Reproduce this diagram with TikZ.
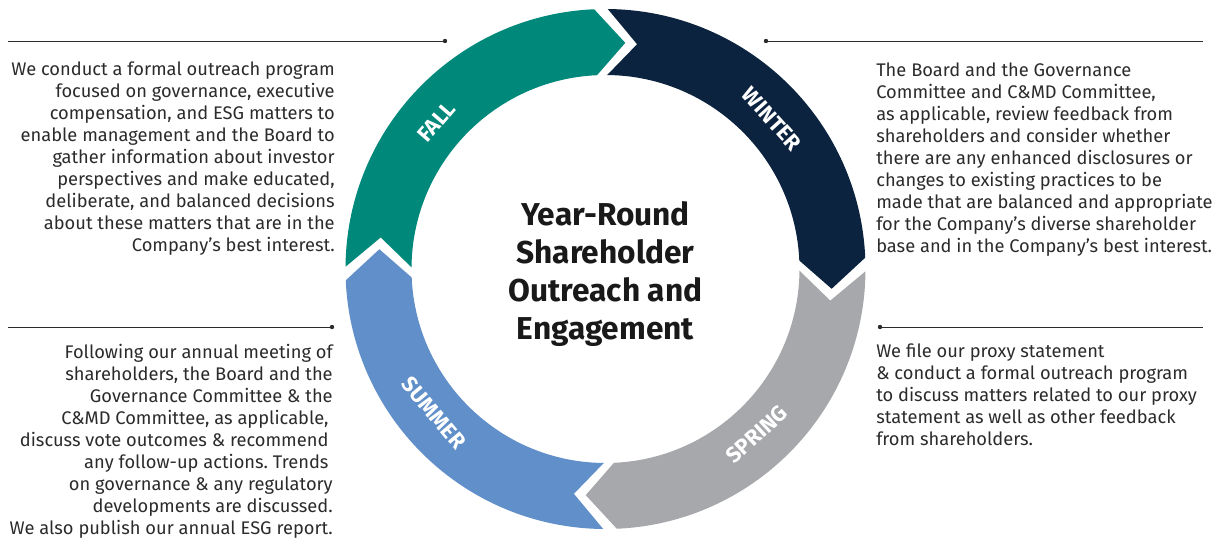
\documentclass[tikz,border=0pt]{standalone}
\usepackage{fontspec}
\setmainfont{Fira Sans}
\frenchspacing
\usetikzlibrary{positioning}
\definecolor{fallteal}{RGB}{0,136,122}
\definecolor{winternavy}{RGB}{12,35,64}
\definecolor{springgray}{RGB}{167,168,171}
\definecolor{summerblue}{RGB}{97,143,201}
\definecolor{textgray}{RGB}{43,43,43}
\tikzset{
    season/.style={text=white, font=\bfseries\fontsize{15.5}{17}\selectfont, inner sep=0pt},
    bodytext/.style={text=textgray, font=\fontsize{13}{15.6}\selectfont, inner sep=0pt},
    rule/.style={draw=textgray, line width=0.7pt},
    ruledot/.style={fill=textgray}
}

\begin{document}
\begin{tikzpicture}[x=0.025cm,y=0.025cm]
    \def\ro{260}
    \def\ri{194}
    \def\rm{227}
    \def\rl{224}
    \useasboundingbox (-605.5,-273) rectangle (610.5,269);
    \foreach \b/\col/\lab/\la/\rot in {180/fallteal/FALL/139/49, 90/winternavy/WINTER/42/-48,
                                       0/springgray/SPRING/-47.5/42.5, 270/summerblue/SUMMER/220/-50}{
        \fill[\col] (\b-0.5:\ro) arc [start angle=\b-0.5, end angle=\b-87.5, radius=\ro]
            -- (\b-95:\rm) -- (\b-87.5:\ri) arc [start angle=\b-87.5, end angle=\b-0.5, radius=\ri]
            -- (\b-8:\rm) -- cycle;
        \node[season, rotate=\rot] (\lab) at (\la:\rl) {\lab};
    }
    \node[text=black!90, font=\bfseries\fontsize{22.5}{27}\selectfont, align=center] (title) at (0,-5)
        {Year-Round\\Shareholder\\Outreach and\\Engagement};

    \coordinate (fallstart) at (-597.5,228);
    \coordinate (falldot) at (-160.5,228);
    \coordinate (winterdot) at (160.5,228);
    \coordinate (winterend) at (597.5,228);
    \coordinate (summerstart) at (-597.5,-58);
    \coordinate (summerdot) at (-273.5,-58);
    \coordinate (springdot) at (274.5,-58);
    \coordinate (springend) at (597.5,-58);
    \draw[rule] (fallstart) -- (falldot);
    \draw[rule] (winterdot) -- (winterend);
    \draw[rule] (summerstart) -- (summerdot);
    \draw[rule] (springdot) -- (springend);
    \foreach \d in {falldot,winterdot,summerdot,springdot}
        \fill[ruledot] (\d) circle [radius=2.2];

    \node[bodytext, align=right, anchor=north east] (falltext) at (-270.5,207)
        {We conduct a formal outreach program\\
         focused on governance, executive\\
         compensation, and ESG matters to\\
         enable management and the Board to\\
         gather information about investor\\
         perspectives and make educated,\\
         deliberate, and balanced decisions\\
         about these matters that are in the\\
         Company’s best interest.};
    \node[bodytext, align=left, anchor=north west] (wintertext) at (270.5,206)
        {The Board and the Governance\\
         Committee and C\&MD Committee,\\
         as applicable, review feedback from\\
         shareholders and consider whether\\
         there are any enhanced disclosures or\\
         changes to existing practices to be\\
         made that are balanced and appropriate\\
         for the Company’s diverse shareholder\\
         base and in the Company’s best interest.};
    \node[bodytext, align=right, anchor=north east] (summertext) at (-272.5,-75)
        {Following our annual meeting of\\
         shareholders, the Board and the\\
         Governance Committee \& the\\
         C\&MD Committee, as applicable,\kern3pt\\
         discuss vote outcomes \& recommend\kern3pt\\
         any follow-up actions. Trends\kern3pt\\
         on governance \& any regulatory\\
         developments are discussed.\\
         We also publish our annual ESG report.};
    \node[bodytext, align=left, anchor=north west] (springtext) at (270.5,-75)
        {We file our proxy statement\\
         \& conduct a formal outreach program\\
         to discuss matters related to our proxy\\
         statement as well as other feedback\\
         from shareholders.};
\end{tikzpicture}
\end{document}
